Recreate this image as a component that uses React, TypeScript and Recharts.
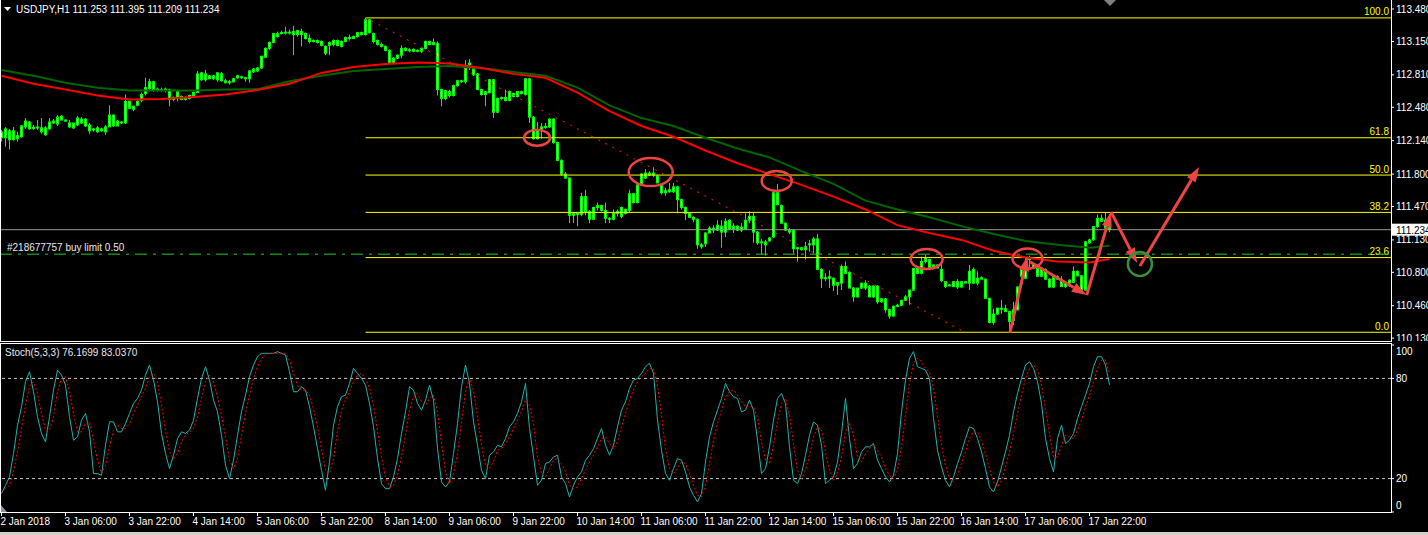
import React from "react";
import {
  ComposedChart,
  Bar,
  Line,
  XAxis,
  YAxis,
  ReferenceLine,
  ReferenceDot,
} from "recharts";

// USDJPY H1, one row per bar: [open, high, low, close]
const candles: [number, number, number, number][] = [
  [112.23,112.25,112.13,112.17],[112.17,112.28,112.08,112.26],[112.24,112.26,112.05,112.15],[112.15,112.28,112.14,112.24],
  [112.19,112.23,112.13,112.16],[112.18,112.30,112.17,112.29],[112.28,112.37,112.26,112.34],[112.33,112.34,112.25,112.26],
  [112.27,112.30,112.25,112.275],[112.27,112.35,112.25,112.28],[112.27,112.37,112.21,112.23],[112.27,112.29,112.19,112.20],
  [112.26,112.37,112.25,112.33],[112.34,112.36,112.31,112.32],[112.31,112.40,112.29,112.38],[112.39,112.40,112.35,112.35],
  [112.35,112.36,112.33,112.34],[112.32,112.35,112.27,112.28],[112.27,112.32,112.26,112.32],[112.30,112.39,112.29,112.37],
  [112.36,112.38,112.31,112.32],[112.36,112.37,112.28,112.29],[112.30,112.32,112.21,112.24],[112.25,112.27,112.23,112.26],
  [112.27,112.29,112.22,112.23],[112.24,112.27,112.23,112.26],[112.23,112.30,112.20,112.28],[112.28,112.50,112.28,112.40],
  [112.40,112.41,112.28,112.29],[112.29,112.35,112.29,112.34],[112.33,112.34,112.31,112.32],[112.32,112.61,112.31,112.54],
  [112.54,112.55,112.46,112.47],[112.46,112.50,112.44,112.49],[112.50,112.55,112.49,112.54],[112.55,112.63,112.53,112.61],
  [112.62,112.78,112.60,112.68],[112.67,112.77,112.64,112.74],[112.74,112.75,112.64,112.66],[112.66,112.68,112.64,112.665],
  [112.66,112.68,112.64,112.655],[112.66,112.68,112.63,112.665],[112.66,112.67,112.49,112.56],[112.56,112.59,112.54,112.58],
  [112.57,112.66,112.54,112.64],[112.59,112.60,112.55,112.56],[112.56,112.59,112.55,112.58],[112.57,112.61,112.56,112.60],
  [112.60,112.64,112.59,112.63],[112.63,112.85,112.63,112.82],[112.83,112.84,112.75,112.76],[112.76,112.86,112.74,112.82],
  [112.80,112.81,112.77,112.77],[112.77,112.81,112.76,112.80],[112.76,112.84,112.74,112.83],[112.82,112.84,112.74,112.75],
  [112.75,112.77,112.72,112.73],[112.73,112.76,112.71,112.74],[112.74,112.78,112.73,112.77],[112.78,112.81,112.77,112.80],
  [112.79,112.80,112.77,112.78],[112.78,112.79,112.74,112.77],[112.77,112.86,112.73,112.85],[112.84,112.88,112.83,112.87],
  [112.85,112.89,112.84,112.88],[112.88,113.00,112.87,113.00],[112.99,113.09,112.98,113.08],[113.08,113.15,113.06,113.14],
  [113.14,113.24,113.13,113.23],[113.23,113.25,113.19,113.20],[113.23,113.26,113.22,113.24],[113.24,113.30,113.22,113.245],
  [113.24,113.27,113.22,113.245],[113.22,113.31,113.01,113.25],[113.22,113.27,113.20,113.26],[113.25,113.28,113.10,113.22],
  [113.23,113.24,113.17,113.18],[113.18,113.22,113.13,113.15],[113.15,113.17,113.14,113.16],[113.16,113.17,113.13,113.14],
  [113.15,113.16,113.10,113.11],[113.10,113.11,113.01,113.03],[113.11,113.15,113.01,113.14],[113.12,113.17,113.10,113.16],
  [113.16,113.17,113.10,113.11],[113.10,113.16,113.09,113.15],[113.15,113.20,113.14,113.19],[113.19,113.22,113.16,113.18],
  [113.18,113.21,113.18,113.20],[113.20,113.24,113.19,113.24],[113.24,113.25,113.21,113.22],[113.22,113.39,113.21,113.37],
  [113.37,113.38,113.23,113.24],[113.23,113.24,113.13,113.15],[113.16,113.17,113.11,113.12],[113.12,113.14,113.09,113.10],
  [113.10,113.11,113.05,113.06],[113.06,113.07,112.92,112.93],[112.93,112.99,112.92,112.98],[112.98,113.02,112.97,113.01],
  [113.01,113.11,112.98,113.08],[113.08,113.09,113.05,113.06],[113.06,113.08,113.04,113.065],[113.07,113.08,113.04,113.05],
  [113.05,113.07,113.04,113.06],[113.05,113.08,113.03,113.08],[113.08,113.16,113.07,113.15],[113.15,113.16,113.11,113.12],
  [113.12,113.18,113.11,113.14],[113.13,113.15,112.60,112.66],[112.66,112.67,112.49,112.57],[112.57,112.66,112.55,112.65],
  [112.64,112.66,112.58,112.60],[112.60,112.71,112.59,112.70],[112.70,112.76,112.69,112.75],[112.75,112.76,112.73,112.74],
  [112.74,112.96,112.72,112.88],[112.91,112.97,112.86,112.93],[112.87,112.88,112.80,112.81],[112.82,112.83,112.66,112.66],
  [112.66,112.67,112.60,112.61],[112.61,112.64,112.49,112.64],[112.63,112.77,112.62,112.76],[112.76,112.77,112.37,112.43],
  [112.43,112.58,112.42,112.57],[112.57,112.59,112.55,112.58],[112.58,112.66,112.54,112.55],[112.55,112.65,112.54,112.64],
  [112.62,112.63,112.58,112.59],[112.59,112.64,112.58,112.64],[112.64,112.65,112.61,112.62],[112.61,112.78,112.60,112.77],
  [112.77,112.78,112.32,112.38],[112.38,112.39,112.15,112.16],[112.16,112.33,112.15,112.25],[112.25,112.32,112.16,112.28],
  [112.28,112.32,112.26,112.285],[112.28,112.37,112.27,112.36],[112.36,112.37,112.11,112.12],[112.12,112.13,111.93,111.94],
  [111.94,111.95,111.78,111.80],[111.80,111.82,111.75,111.76],[111.76,111.77,111.30,111.38],[111.38,111.41,111.30,111.40],
  [111.40,111.41,111.27,111.39],[111.39,111.61,111.37,111.57],[111.57,111.64,111.38,111.42],[111.42,111.43,111.30,111.34],
  [111.34,111.47,111.33,111.46],[111.46,111.51,111.43,111.48],[111.48,111.49,111.42,111.43],[111.43,111.51,111.30,111.35],
  [111.35,111.36,111.30,111.34],[111.34,111.44,111.33,111.40],[111.40,111.44,111.37,111.42],[111.46,111.47,111.35,111.37],
  [111.40,111.45,111.39,111.44],[111.43,111.64,111.41,111.60],[111.60,111.61,111.50,111.51],[111.51,111.70,111.50,111.69],
  [111.70,111.81,111.69,111.80],[111.76,111.85,111.75,111.81],[111.81,111.83,111.78,111.79],[111.79,111.87,111.77,111.81],
  [111.78,111.79,111.71,111.71],[111.69,111.70,111.59,111.61],[111.61,111.66,111.58,111.63],[111.62,111.71,111.61,111.64],
  [111.62,111.71,111.61,111.67],[111.67,111.68,111.40,111.54],[111.54,111.55,111.44,111.46],[111.46,111.47,111.33,111.40],
  [111.40,111.41,111.36,111.36],[111.36,111.37,111.31,111.34],[111.34,111.35,111.04,111.08],[111.08,111.10,111.04,111.06],
  [111.09,111.21,111.06,111.20],[111.20,111.27,111.20,111.25],[111.25,111.28,111.20,111.23],[111.23,111.33,111.22,111.28],
  [111.27,111.33,111.05,111.21],[111.21,111.35,111.16,111.32],[111.33,111.34,111.23,111.24],[111.24,111.30,111.20,111.27],
  [111.27,111.28,111.22,111.23],[111.23,111.30,111.21,111.26],[111.24,111.40,111.23,111.33],[111.33,111.42,111.30,111.37],
  [111.37,111.41,111.10,111.21],[111.21,111.22,111.08,111.10],[111.10,111.14,110.98,111.11],[111.11,111.13,110.97,111.08],
  [111.12,111.16,111.11,111.15],[111.16,111.64,111.15,111.61],[111.61,111.70,111.48,111.49],[111.48,111.49,111.30,111.30],
  [111.30,111.31,111.22,111.23],[111.23,111.25,111.19,111.21],[111.23,111.24,110.99,111.04],[111.04,111.06,110.91,111.05],
  [111.05,111.06,111.02,111.03],[111.03,111.11,110.93,111.06],[111.08,111.13,111.01,111.09],[111.08,111.16,110.99,111.14],
  [111.14,111.19,110.83,110.83],[110.83,110.84,110.64,110.74],[110.74,110.79,110.71,110.745],[110.74,110.82,110.64,110.755],
  [110.74,110.75,110.61,110.67],[110.67,110.70,110.57,110.695],[110.69,110.88,110.62,110.86],[110.86,110.91,110.79,110.79],
  [110.80,110.81,110.64,110.64],[110.64,110.65,110.50,110.55],[110.55,110.64,110.54,110.64],[110.64,110.69,110.63,110.69],
  [110.69,110.72,110.62,110.64],[110.66,110.67,110.54,110.55],[110.55,110.67,110.54,110.66],[110.66,110.67,110.48,110.50],
  [110.50,110.54,110.49,110.53],[110.53,110.54,110.39,110.42],[110.42,110.43,110.33,110.355],[110.355,110.46,110.35,110.455],
  [110.455,110.48,110.445,110.465],[110.465,110.52,110.46,110.515],[110.515,110.57,110.51,110.55],[110.55,110.62,110.47,110.62],
  [110.62,110.845,110.61,110.84],[110.84,110.85,110.78,110.79],[110.79,110.96,110.78,110.91],[110.91,110.98,110.89,110.94],
  [110.93,110.94,110.84,110.84],[110.86,110.88,110.85,110.875],[110.875,110.88,110.84,110.845],[110.83,110.89,110.70,110.715],
  [110.705,110.71,110.64,110.655],[110.67,110.68,110.66,110.672],[110.655,110.71,110.65,110.705],[110.705,110.73,110.63,110.65],
  [110.65,110.71,110.645,110.705],[110.705,110.71,110.69,110.69],[110.69,110.875,110.62,110.81],[110.83,110.85,110.685,110.69],
  [110.69,110.81,110.67,110.74],[110.745,110.76,110.73,110.73],[110.73,110.74,110.535,110.535],[110.535,110.54,110.28,110.29],
  [110.29,110.43,110.265,110.375],[110.375,110.44,110.37,110.435],[110.435,110.52,110.38,110.43],[110.43,110.47,110.40,110.40],
  [110.40,110.41,110.19,110.30],[110.31,110.50,110.26,110.42],[110.42,110.66,110.41,110.65],[110.76,110.86,110.66,110.83],
  [110.74,110.95,110.73,110.86],[110.93,110.97,110.85,110.94],[110.89,110.90,110.84,110.84],[110.84,110.85,110.76,110.76],
  [110.76,110.84,110.75,110.84],[110.83,110.84,110.73,110.73],[110.73,110.74,110.64,110.65],[110.65,110.76,110.64,110.755],
  [110.755,110.77,110.73,110.73],[110.73,110.76,110.65,110.655],[110.655,110.71,110.64,110.69],[110.69,110.73,110.65,110.72],
  [110.70,110.86,110.69,110.81],[110.81,110.82,110.76,110.765],[110.765,110.77,110.62,110.62],[110.62,111.12,110.61,111.11],
  [111.10,111.14,111.09,111.13],[111.13,111.27,111.12,111.265],[111.265,111.39,111.25,111.35],[111.35,111.39,111.31,111.32],
  [111.33,111.41,111.24,111.25],[111.253,111.395,111.209,111.234],
];

// moving averages, read every 8 bars
const maBars = [0,8,16,24,32,40,48,56,64,72,80,88,96,104,112,120,128,136,144,152,160,168,176,184,192,200,208,216,224,232,240,248,256,264,272,277];
const maRed = [112.80,112.72,112.66,112.60,112.56,112.565,112.585,112.61,112.655,112.72,112.83,112.89,112.92,112.935,112.925,112.88,112.82,112.78,112.63,112.44,112.29,112.18,112.04,111.91,111.80,111.69,111.57,111.44,111.28,111.20,111.13,111.02,110.95,110.91,110.90,110.935];
const maGreen = [112.86,112.80,112.73,112.68,112.65,112.65,112.65,112.66,112.665,112.745,112.80,112.85,112.87,112.89,112.90,112.88,112.84,112.80,112.68,112.50,112.37,112.29,112.17,112.06,111.97,111.83,111.70,111.53,111.44,111.36,111.27,111.19,111.12,111.08,111.05,111.07];

// Stoch(5,3,3)
const stochK = [
  11,16,21,35,52,63,78,84,72,57, 47,42,57,73,85,82,76,57,43,45, 55,59,48,23,23,22,40,54,54,48,
  48,53,59,65,68,73,82,88,79,66, 47,35,26,34,44,48,47,49,55,68, 80,87,79,67,60,46,28,20,31,46,
  60,70,81,88,93,95,95,95,95,96, 95,94,84,72,72,75,73,63,51,38, 25,13,30,52,63,69,70,77,86,83,
  80,76,65,51,32,17,14,14,21,32, 47,60,75,73,65,61,67,76,67,38, 18,15,18,35,53,75,88,77,54,40,
  25,20,34,36,40,39,44,51,54,59, 66,77,50,33,16,19,29,30,33,34, 21,17,9,16,21,24,31,34,38,44,
  50,40,34,40,51,61,66,74,79,80, 83,87,89,83,55,37,23,19,26,32, 31,24,15,10,6,11,30,45,54,61,
  68,77,72,69,68,60,61,67,61,43, 23,26,39,55,68,71,65,39,19,17, 23,34,46,54,52,40,17,19,21,30,
  47,68,44,26,29,36,39,39,41,31, 26,21,18,22,35,60,79,92,96,87, 86,85,80,56,37,27,19,15,21,29,
  36,44,51,50,44,36,26,15,12,18, 27,36,46,60,71,80,88,90,86,78, 65,44,32,24,44,52,41,43,47,56,
  63,70,77,87,93,93,88,76.17,
];
const stochD = [
  12,14,16,24,36,50,64,75,78,71, 59,49,49,57,72,80,81,72,59,48, 48,53,54,43,31,23,28,39,49,52,
  50,50,53,59,64,69,74,81,83,78, 64,49,36,32,35,42,46,48,50,57, 68,78,82,78,69,58,45,31,26,32,
  46,59,70,80,87,92,94,95,95,95, 95,95,91,83,76,73,73,70,62,51, 38,25,23,32,48,61,67,72,78,82,
  83,80,74,64,49,33,21,15,16,22, 33,46,61,69,71,66,64,68,70,60, 41,24,17,23,35,54,72,80,73,57,
  40,28,26,30,37,38,41,45,50,55, 60,67,64,53,33,23,21,26,31,32, 29,24,16,14,15,20,25,30,34,39,
  44,45,41,38,42,51,59,67,73,78, 81,83,86,86,76,58,38,26,23,26, 30,29,23,16,10,9,16,29,43,53,
  61,69,72,73,70,66,63,63,63,57, 42,31,29,40,54,65,68,58,41,25, 20,25,34,45,51,49,36,25,19,23,
  33,48,53,46,33,30,35,38,40,37, 33,26,22,20,25,39,58,77,89,92, 90,86,84,74,58,40,28,20,18,22,
  29,36,44,48,48,43,35,26,18,15, 19,27,36,47,59,70,80,86,88,85, 76,62,47,33,33,40,46,45,44,49,
  55,63,70,78,86,91,91,83.04,
];

const timeLabels = [
  "2 Jan 2018", "3 Jan 06:00", "3 Jan 22:00", "4 Jan 14:00", "5 Jan 06:00", "5 Jan 22:00",
  "8 Jan 14:00", "9 Jan 06:00", "9 Jan 22:00", "10 Jan 14:00", "11 Jan 06:00", "11 Jan 22:00",
  "12 Jan 14:00", "15 Jan 06:00", "15 Jan 22:00", "16 Jan 14:00", "17 Jan 06:00", "17 Jan 22:00",
];
const priceTicks = [113.48, 113.15, 112.81, 112.48, 112.14, 111.8, 111.47, 111.13, 110.8, 110.46, 110.13];
const stochTicks = [0, 20, 80, 100];

const fibLabels = ["100.0", "61.8", "50.0", "38.2", "23.6", "0.0"];
const fibPrices = [113.39, 112.17, 111.79, 111.41, 110.95, 110.19];
const fibStartBar = 91;
const bid = 111.234;
const buyLimit = 110.985;
const trendLine = [{ x: 92.5, y: 113.36 }, { x: 240, y: 110.21 }];

// hand-drawn marks: [bar, price]
const ellipses = [
  { i: 133.9, p: 112.17, rx: 13, ry: 8 },
  { i: 162.3, p: 111.82, rx: 22, ry: 14 },
  { i: 193.8, p: 111.73, rx: 15, ry: 10 },
  { i: 231.3, p: 110.935, rx: 16, ry: 10 },
  { i: 256.5, p: 110.94, rx: 15, ry: 10 },
];
const greenCircle = { i: 284.6, p: 110.885, r: 12 };
const arrows = [
  [[252.1, 110.185], [256.5, 110.966]],
  [[257.1, 110.908], [271.3, 110.569]],
  [[271.3, 110.569], [277.4, 111.414]],
  [[277.4, 111.414], [283.9, 110.895]],
  [[284.6, 110.864], [299.4, 111.872]],
];

const FONT = "'Liberation Sans', Arial, sans-serif";
const CANDLE = "#00ff00";
const BODY = "#d6ffd0";
const FIB = "#ffff00";
const MARK = "#ee4444";
const X_DOMAIN: [number, number] = [-0.375, 347.375];
const PLOT_R = 1391;

const rows = Array.from({ length: 348 }, (_, i) => {
  const c = candles[i];
  const m = maBars.indexOf(i);
  return {
    i,
    range: c ? [c[2], c[1]] : null,
    o: c ? c[0] : null,
    h: c ? c[1] : null,
    l: c ? c[2] : null,
    cl: c ? c[3] : null,
    red: m >= 0 ? maRed[m] : null,
    green: m >= 0 ? maGreen[m] : null,
    k: i < stochK.length ? stochK[i] : null,
    d: i < stochD.length ? stochD[i] : null,
  };
});

const Candle = (props: any) => {
  const { x, y, width, height, payload } = props;
  if (!payload || payload.o == null || height == null) return null;
  const { o, h, l, cl } = payload;
  const k = h > l ? height / (h - l) : 0;
  const cx = Math.floor(x + width / 2) + 0.5;
  const top = y + (h - Math.max(o, cl)) * k;
  const bot = y + (h - Math.min(o, cl)) * k;
  return (
    <g>
      <line x1={cx} x2={cx} y1={y} y2={y + height} stroke={CANDLE} strokeWidth={1} />
      <rect x={cx - 1} y={top} width={2} height={Math.max(bot - top, 1)} fill={BODY} stroke={CANDLE} strokeWidth={1} />
    </g>
  );
};

const fibShape = (label: string) => (p: any) => {
  const right = Math.max(p.x1, p.x2);
  return (
    <g>
      <line x1={p.x1} y1={p.y1} x2={p.x2} y2={p.y2} stroke={FIB} strokeWidth={1} />
      <text x={right - 2} y={p.y1 - 2.5} fill={FIB} fontSize={10} fontFamily={FONT} textAnchor="end">
        {label}
      </text>
    </g>
  );
};

const arrowShape = (p: any) => {
  const { x1, y1, x2, y2 } = p;
  const len = Math.hypot(x2 - x1, y2 - y1) || 1;
  const ux = (x2 - x1) / len;
  const uy = (y2 - y1) / len;
  const hl = 15;
  const hw = 5;
  const bx = x2 - ux * hl;
  const by = y2 - uy * hl;
  return (
    <g>
      <line x1={x1} y1={y1} x2={bx} y2={by} stroke={MARK} strokeWidth={3} />
      <polygon points={`${x2},${y2} ${bx - uy * hw},${by + ux * hw} ${bx + uy * hw},${by - ux * hw}`} fill={MARK} />
    </g>
  );
};

const bidShape = (p: any) => {
  const right = Math.max(p.x1, p.x2);
  return (
    <g>
      <line x1={p.x1} y1={p.y1} x2={p.x2} y2={p.y2} stroke="#9a9a9a" strokeWidth={1} />
      <rect x={right + 1} y={p.y1 - 6} width={40} height={12} fill="#ffffff" />
      <text x={right + 5} y={p.y1 + 4} fill="#000" fontSize={10} fontFamily={FONT}>
        {bid.toFixed(3)}
      </text>
    </g>
  );
};

const buyShape = (p: any) => {
  const left = Math.min(p.x1, p.x2);
  const right = Math.max(p.x1, p.x2);
  return (
    <g>
      <line x1={left} y1={p.y1} x2={right} y2={p.y2} stroke="#22cc22" strokeWidth={1} strokeDasharray="12 6 3 6" />
      <text x={left + 7} y={p.y1 - 3} fill="#e8e8e8" fontSize={10} fontFamily={FONT}>
        #218677757 buy limit 0.50
      </text>
    </g>
  );
};

const timeTick = (p: any) => (
  <text x={p.x - 1} y={p.y + 7} fill="#fff" fontSize={10} fontFamily={FONT} textAnchor="start">
    {timeLabels[Math.round(p.payload.value / 16)]}
  </text>
);

const stochTick = (p: any) => {
  const v = p.payload.value;
  const dy = v === 100 ? 9.5 : v === 0 ? -3.3 : 3.7;
  return (
    <text x={p.x} y={p.y + dy} fill="#fff" fontSize={10} fontFamily={FONT} textAnchor="start">
      {v}
    </text>
  );
};

export default function App() {
  const timeTicks = timeLabels.map((_, n) => n * 16);
  return (
    <div style={{ position: "fixed", left: 0, top: 0, width: 1428, height: 535, background: "#000", overflow: "hidden" }}>
      <div style={{ position: "absolute", left: 0, top: 0 }}>
        <ComposedChart width={1428} height={341} data={rows} margin={{ top: 0, right: 0, bottom: 0, left: 0 }}>
          <XAxis dataKey="i" type="number" domain={X_DOMAIN} allowDataOverflow hide />
          <YAxis
            orientation="right"
            width={37}
            domain={[110.101, 113.572]}
            allowDataOverflow
            ticks={priceTicks}
            interval={0}
            tickFormatter={(v: number) => v.toFixed(3)}
            tick={{ fill: "#fff", fontSize: 10, fontFamily: FONT }}
            tickLine={{ stroke: "#fff" }}
            tickSize={3}
            axisLine={false}
          />
          {fibPrices.map((p, n) => (
            <ReferenceLine
              key={fibLabels[n]}
              segment={[{ x: fibStartBar, y: p }, { x: X_DOMAIN[1], y: p }]}
              ifOverflow="visible"
              shape={fibShape(fibLabels[n])}
            />
          ))}
          <ReferenceLine y={buyLimit} ifOverflow="visible" shape={buyShape} />
          <ReferenceLine y={bid} ifOverflow="visible" shape={bidShape} />
          <Bar dataKey="range" barSize={3} shape={Candle} isAnimationActive={false} />
          <Line dataKey="green" stroke="#006400" strokeWidth={2} dot={false} activeDot={false} connectNulls isAnimationActive={false} />
          <Line dataKey="red" stroke="#ff0000" strokeWidth={2} dot={false} activeDot={false} connectNulls isAnimationActive={false} />
          <ReferenceLine segment={trendLine} ifOverflow="visible" stroke="#ff2020" strokeWidth={1} strokeDasharray="2 6" />
          {ellipses.map((e, n) => (
            <ReferenceDot
              key={n}
              x={e.i}
              y={e.p}
              r={1}
              ifOverflow="visible"
              shape={(p: any) => (
                <ellipse cx={p.cx} cy={p.cy} rx={e.rx} ry={e.ry} fill="none" stroke={MARK} strokeWidth={2.5} />
              )}
            />
          ))}
          <ReferenceDot
            x={greenCircle.i}
            y={greenCircle.p}
            r={1}
            ifOverflow="visible"
            shape={(p: any) => (
              <circle cx={p.cx} cy={p.cy} r={greenCircle.r} fill="none" stroke="#3a8f3a" strokeWidth={2.5} />
            )}
          />
          {arrows.map((a, n) => (
            <ReferenceLine
              key={"a" + n}
              segment={[{ x: a[0][0], y: a[0][1] }, { x: a[1][0], y: a[1][1] }]}
              ifOverflow="visible"
              shape={arrowShape}
            />
          ))}
        </ComposedChart>
      </div>

      <div style={{ position: "absolute", left: 0, top: 343 }}>
        <ComposedChart width={1428} height={192} data={rows} margin={{ top: 2, right: 0, bottom: 0, left: 0 }}>
          <XAxis
            dataKey="i"
            type="number"
            domain={X_DOMAIN}
            allowDataOverflow
            ticks={timeTicks}
            interval={0}
            height={23}
            tick={timeTick}
            tickLine={{ stroke: "#fff" }}
            tickSize={4}
            axisLine={false}
          />
          <YAxis
            orientation="right"
            width={37}
            domain={[0, 100]}
            allowDataOverflow
            ticks={stochTicks}
            interval={0}
            tick={stochTick}
            tickLine={{ stroke: "#fff" }}
            tickSize={3}
            axisLine={false}
          />
          <ReferenceLine y={80} stroke="#c8c8c8" strokeDasharray="3 3" />
          <ReferenceLine y={20} stroke="#c8c8c8" strokeDasharray="3 3" />
          <Line dataKey="k" stroke="#20b2aa" strokeWidth={1} dot={false} activeDot={false} isAnimationActive={false} />
          <Line dataKey="d" stroke="#ff0000" strokeWidth={1} strokeDasharray="2 2" dot={false} activeDot={false} isAnimationActive={false} />
        </ComposedChart>
      </div>

      <svg width={1428} height={535} style={{ position: "absolute", left: 0, top: 0, pointerEvents: "none" }}>
        <g stroke="#fff" strokeWidth={1}>
          <line x1={0.5} y1={0} x2={0.5} y2={341} />
          <line x1={0} y1={341.5} x2={PLOT_R + 1} y2={341.5} />
          <line x1={PLOT_R + 0.5} y1={0} x2={PLOT_R + 0.5} y2={342} />
          <line x1={0} y1={343.5} x2={PLOT_R + 1} y2={343.5} />
          <line x1={0.5} y1={343} x2={0.5} y2={513} />
          <line x1={PLOT_R + 0.5} y1={343} x2={PLOT_R + 0.5} y2={513} />
          <line x1={0} y1={512.5} x2={PLOT_R + 1} y2={512.5} />
        </g>
        <polygon points="4,7 11,7 7.5,11" fill="#fff" />
        <text x={16} y={13} fill="#fff" fontSize={10} fontFamily={FONT}>
          USDJPY,H1  111.253 111.395 111.209 111.234
        </text>
        <text x={5} y={355.5} fill="#e8e8e8" fontSize={10} fontFamily={FONT}>
          Stoch(5,3,3) 76.1699 83.0370
        </text>
        <polygon points="1104,0 1116,0 1110,6" fill="#808080" />
        <polygon points="1,505 1,512 7,512" fill="#8a8f99" />
        <rect x={0} y={532} width={1428} height={3} fill="#d4d0c8" />
      </svg>
    </div>
  );
}
